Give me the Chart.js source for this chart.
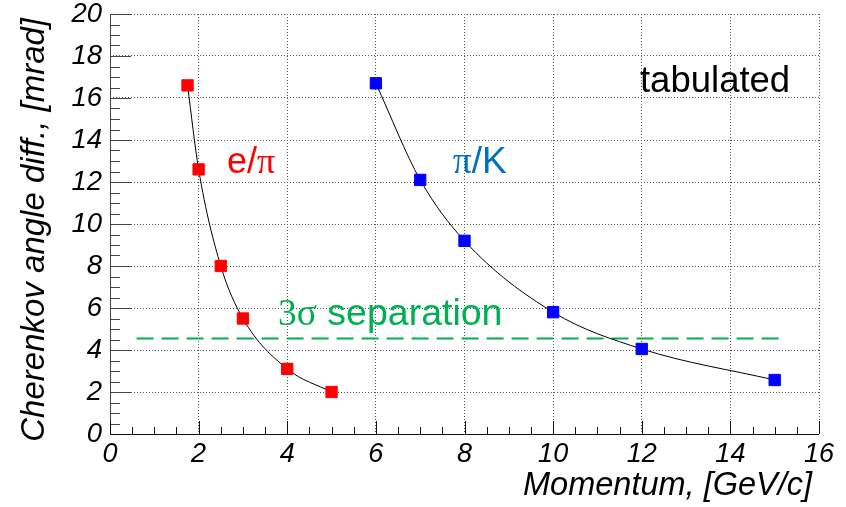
<!DOCTYPE html>
<html>
<head>
<meta charset="utf-8">
<script src="https://cdn.jsdelivr.net/npm/chart.js@4.4.1/dist/chart.umd.min.js"></script>
<style>
  html, body { margin: 0; padding: 0; background: #fff; }
  #wrap { width: 846px; height: 507px; }
</style>
</head>
<body>
<div id="wrap"><canvas id="c" width="846" height="507"></canvas></div>
<script>
// Cherenkov angle difference vs momentum
const momentumEPi = [1.75, 2, 2.5, 3, 4, 5];
const angleDiffEPi = [16.6, 12.6, 8.0, 5.5, 3.1, 2.0];
const momentumPiK = [6, 7, 8, 10, 12, 15];
const angleDiffPiK = [16.7, 12.1, 9.2, 5.8, 4.05, 2.57];

// 3 sigma separation threshold
const separationLevel = 4.55;
const separationRange = [0.6, 15.1];

// axis ranges and tick steps
const xRange = [0, 16];
const yRange = [0, 20];
const majorStep = 2;
const minorStep = 0.5;

const SANS = "'Liberation Sans', Arial, sans-serif";
const SERIF = "'Liberation Serif', 'Times New Roman', serif";

function toPoints(xs, ys) {
  return xs.map((x, i) => ({ x: x, y: ys[i] }));
}

// text labels placed in data coordinates; each label is a list of [text, family] runs
const labels = [
  { x: 2.64, y: 12.43, color: '#ff0000', size: 36, runs: [['e/', SANS], ['\u03c0', SERIF]] },
  { x: 7.74, y: 12.45, color: '#0070c0', size: 37, runs: [['\u03c0', SERIF], ['/K', SANS]] },
  { x: 11.96, y: 16.3, color: '#000000', size: 36.5, runs: [['tabulated', SANS]] },
  { x: 3.79, y: 5.2, color: '#00b050', size: 37.5, runs: [['3\u03c3', SERIF], [' separation', SANS]] }
];

const frameTicks = {
  id: 'frameTicks',
  beforeDatasetsDraw(chart) {
    const { ctx, chartArea: a, scales: { x, y } } = chart;
    ctx.save();
    ctx.lineWidth = 1;
    // y axis with inner ticks
    ctx.strokeStyle = '#444';
    ctx.beginPath();
    ctx.moveTo(a.left + 0.5, a.top);
    ctx.lineTo(a.left + 0.5, a.bottom);
    const nY = Math.round((yRange[1] - yRange[0]) / minorStep);
    for (let i = 0; i <= nY; i++) {
      const v = yRange[0] + i * minorStep;
      const len = (Math.abs(v / majorStep - Math.round(v / majorStep)) < 1e-6) ? 21 : 10;
      const py = Math.round(y.getPixelForValue(v)) + 0.5;
      ctx.moveTo(a.left, py);
      ctx.lineTo(a.left + len, py);
    }
    ctx.stroke();
    // x axis with inner ticks
    ctx.strokeStyle = '#111';
    ctx.beginPath();
    ctx.moveTo(a.left, a.bottom + 0.5);
    ctx.lineTo(a.right, a.bottom + 0.5);
    const nX = Math.round((xRange[1] - xRange[0]) / minorStep);
    for (let i = 0; i <= nX; i++) {
      const v = xRange[0] + i * minorStep;
      const len = (Math.abs(v / majorStep - Math.round(v / majorStep)) < 1e-6) ? 13 : 7;
      const px = Math.round(x.getPixelForValue(v)) + 0.5;
      ctx.moveTo(px, a.bottom);
      ctx.lineTo(px, a.bottom - len);
    }
    ctx.stroke();
    ctx.restore();
  },
  afterDatasetsDraw(chart) {
    const { ctx, scales: { x, y } } = chart;
    ctx.save();
    ctx.textBaseline = 'alphabetic';
    ctx.textAlign = 'left';
    labels.forEach(l => {
      let px = x.getPixelForValue(l.x);
      const py = y.getPixelForValue(l.y);
      ctx.fillStyle = l.color;
      l.runs.forEach(([t, fam]) => {
        ctx.font = l.size + 'px ' + fam;
        ctx.fillText(t, px, py);
        px += ctx.measureText(t).width;
      });
    });
    ctx.restore();
  },
  afterDraw(chart) {
    const { ctx, chartArea: a } = chart;
    ctx.save();
    ctx.fillStyle = '#000';
    ctx.textBaseline = 'alphabetic';
    // x axis title, right aligned under the axis end
    ctx.font = 'italic 32.5px ' + SANS;
    ctx.textAlign = 'right';
    ctx.fillText('Momentum, [GeV/c]', a.right - 7, 495);
    // y axis title, rotated, right aligned at the top
    ctx.font = 'italic 33px ' + SANS;
    ctx.translate(44, a.top + 4);
    ctx.rotate(-Math.PI / 2);
    ctx.textAlign = 'right';
    ctx.fillText('Cherenkov angle diff., [mrad]', 0, 0);
    ctx.restore();
  }
};

const gridColor = (ctx) => (ctx.tick && ctx.tick.value === 0) ? 'rgba(0,0,0,0)' : '#555';

new Chart(document.getElementById('c'), {
  type: 'scatter',
  data: {
    datasets: [
      {
        label: 'e/\u03c0',
        data: toPoints(momentumEPi, angleDiffEPi),
        showLine: true,
        cubicInterpolationMode: 'monotone',
        borderColor: '#000',
        borderWidth: 1,
        pointStyle: 'rect',
        pointRadius: 8,
        pointBorderWidth: 1,
        pointBackgroundColor: '#ff0000',
        pointBorderColor: '#ff0000',
        order: 1
      },
      {
        label: '\u03c0/K',
        data: toPoints(momentumPiK, angleDiffPiK),
        showLine: true,
        cubicInterpolationMode: 'monotone',
        borderColor: '#000',
        borderWidth: 1,
        pointStyle: 'rect',
        pointRadius: 8,
        pointBorderWidth: 1,
        pointBackgroundColor: '#0000ff',
        pointBorderColor: '#0000ff',
        order: 1
      },
      {
        label: '3\u03c3 separation',
        data: separationRange.map(v => ({ x: v, y: separationLevel })),
        showLine: true,
        borderColor: '#00b050',
        borderWidth: 2,
        borderDash: [17, 8],
        pointRadius: 0,
        order: 2
      }
    ]
  },
  options: {
    responsive: false,
    animation: false,
    devicePixelRatio: 1,
    layout: { padding: { top: 14, right: 27, left: 0, bottom: 0 } },
    plugins: { legend: { display: false }, tooltip: { enabled: false } },
    scales: {
      x: {
        type: 'linear',
        min: xRange[0],
        max: xRange[1],
        ticks: {
          stepSize: majorStep,
          color: '#000',
          padding: 4,
          maxRotation: 0,
          font: { family: SANS, style: 'italic', size: 27 }
        },
        grid: { color: gridColor, lineWidth: 1, drawTicks: false },
        border: { display: false, dash: [1, 2] },
        afterFit(s) { s.height = 73; s.paddingLeft = 0; s.paddingRight = 0; }
      },
      y: {
        type: 'linear',
        min: yRange[0],
        max: yRange[1],
        ticks: {
          stepSize: majorStep,
          color: '#000',
          padding: 8,
          font: { family: SANS, style: 'italic', size: 27.5 }
        },
        grid: { color: gridColor, lineWidth: 1, drawTicks: false },
        border: { display: false, dash: [1, 2] },
        afterFit(s) { s.width = 110; s.paddingTop = 0; s.paddingBottom = 0; }
      }
    }
  },
  plugins: [frameTicks]
});
</script>
</body>
</html>
